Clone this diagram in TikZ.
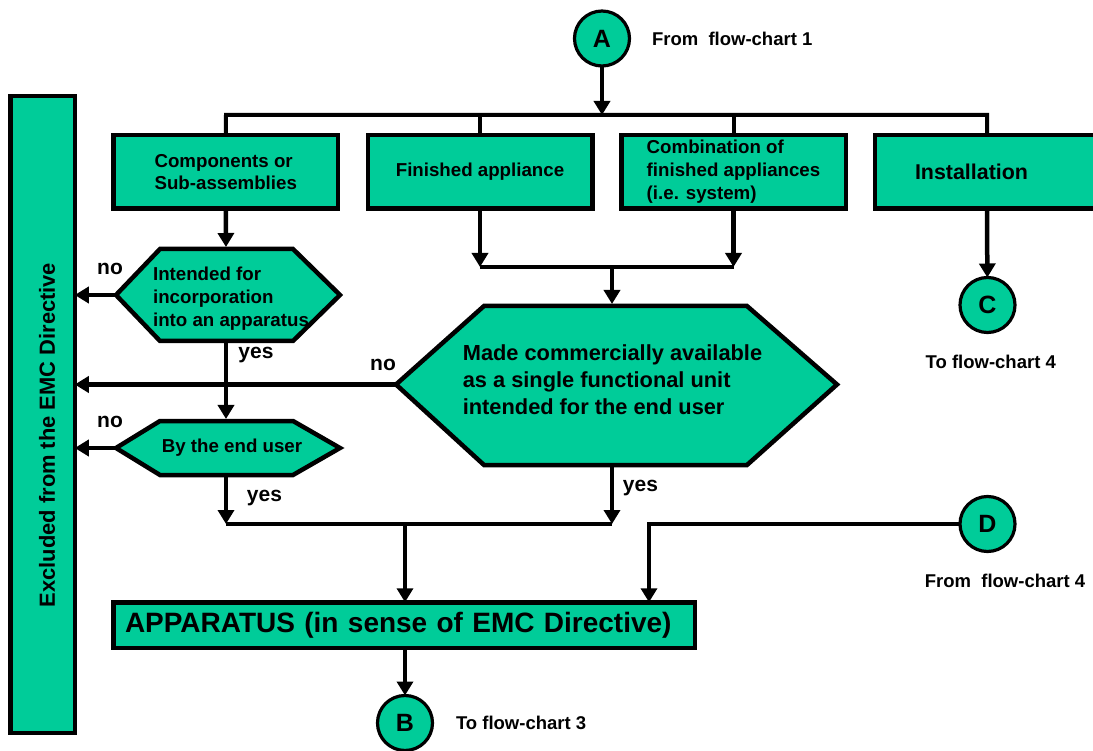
\documentclass[tikz,border=0pt]{standalone}
\usepackage{fontspec}
\setmainfont{Liberation Sans}
\usetikzlibrary{positioning,calc,arrows.meta}
\definecolor{emcgreen}{RGB}{0,204,153}

\begin{document}
\begin{tikzpicture}[x=1pt,y=-1pt,every node/.style={outer sep=0pt},
		box/.style={draw,line width=4.5pt,fill=emcgreen,inner sep=0pt,align=left,
		font=\fontsize{18.7}{22.5}\selectfont\bfseries},
		hexline/.style={draw,line width=4.5pt,fill=emcgreen,line join=miter},
		conn/.style={line width=4pt},
		arr/.style={line width=4.5pt,-{Triangle[length=14pt,width=16pt]}},
		joint/.style={circle,draw,line width=3.2pt,fill=emcgreen,minimum size=55pt,
		inner sep=0pt,font=\fontsize{25}{25}\selectfont\bfseries},
		note/.style={inner sep=0pt,font=\fontsize{18.5}{22}\selectfont\bfseries},
		yesno/.style={inner sep=0pt,font=\fontsize{21}{25}\selectfont\bfseries},
		]
		\useasboundingbox (0,0) rectangle (1093,751);
		\clip (0,0) rectangle (1093,751);

		% left bar
		\node[draw,line width=4.5pt,fill=emcgreen,minimum width=64.5pt,minimum height=636.5pt] (excl) at (42.5,414.5) {};
		\node[rotate=90,inner sep=0pt,font=\fontsize{21.9}{26}\selectfont\bfseries] (excltext) at (47,435) {Excluded from the EMC Directive};

		% top row
		\node[joint] (circA) at (602,38.5) {A};
		\node[note,anchor=west] (fromA) at (652,39) {From\ \ flow-chart 1};
		\node[box,minimum width=224.5pt,minimum height=73.5pt] (comp) at (225.75,172) {Components or\\Sub-assemblies};
		\node[box,minimum width=224.5pt,minimum height=73.5pt] (fin) at (480,172) {Finished appliance};
		\node[box,minimum width=224.5pt,minimum height=73.5pt,font=\fontsize{18.7}{23}\selectfont\bfseries] (comb) at (733.5,172) {Combination of\\finished appliances\\(i.e. system)};
		\node[box,anchor=west,minimum height=73.5pt,text width=240pt,inner xsep=40pt,
			font=\fontsize{21.4}{25}\selectfont\bfseries] (inst) at (875,172) {Installation};

		\coordinate (busW) at (226,115);
		\coordinate (busE) at (987,115);
		\draw[arr] (circA) -- (circA |- busW);
		\draw[conn] (comp.north) -- (busW) -- (busE) -- (busE |- inst.north);
		\draw[conn] (fin.north) -- (fin.north |- busW);
		\draw[conn] (comb.north) -- (comb.north |- busW);

		% decisions
		\coordinate (incW) at (116,295);
		\coordinate (incN) at (226,247);
		\coordinate (incS) at (226,341);
		\draw[hexline] (incW) -- (160,249) -- (293,249) -- (340,295) -- (293,341) -- (160,341) -- cycle;
		\node[inner sep=0pt,align=left,font=\fontsize{18.7}{23}\selectfont\bfseries] (incorp) at (231,299) {Intended for\\incorporation\\into an apparatus};

		\coordinate (userW) at (116,448);
		\coordinate (userN) at (226,419);
		\coordinate (userS) at (226,475);
		\draw[hexline] (userW) -- (160,421) -- (293,421) -- (340,448) -- (293,475) -- (160,475) -- cycle;
		\node[inner sep=0pt,font=\fontsize{18.7}{23}\selectfont\bfseries] (enduser) at (232,448) {By the end user};

		\coordinate (mktW) at (396,384.5);
		\coordinate (mktN) at (612,304);
		\coordinate (mktS) at (612,465);
		\draw[hexline] (mktW) -- (484,306) -- (747,306) -- (837,384.5) -- (747,465) -- (484,465) -- cycle;
		\node[inner sep=0pt,align=left,font=\fontsize{21.8}{27}\selectfont\bfseries] (market) at (612.5,380) {Made commercially available\\as a single functional unit\\intended for the end user};

		% connectors
		\coordinate (joinT) at (612,267);
		\coordinate (joinW) at (226,524);
		\coordinate (joinE) at (612,524);
		\coordinate (dturn) at (649,524);
		\draw[arr] (comp.south) -- (incN);
		\draw[arr] (fin.south) -- (fin.south |- joinT);
		\draw[arr] (comb.south) -- (comb.south |- joinT);
		\draw[conn] (fin.south |- joinT) -- (comb.south |- joinT);
		\draw[arr] (joinT) -- (mktN);
		\draw[arr] (incW) -- (incW -| excl.east);
		\draw[arr] (mktW) -- (mktW -| excl.east);
		\draw[arr] (userW) -- (userW -| excl.east);
		\draw[arr] (incS) -- (userN);
		\draw[arr] (userS) -- (joinW);
		\draw[arr] (mktS) -- (joinE);
		\draw[conn] (joinW) -- (joinE);

		\node[yesno] (no1) at (110,269) {no};
		\node[yesno] (yes1) at (256,355) {yes};
		\node[yesno] (no2) at (383,365) {no};
		\node[yesno] (no3) at (110,422) {no};
		\node[yesno] (yes2) at (264.5,498) {yes};
		\node[yesno] (yes3) at (640.5,488) {yes};

		% bottom
		\node[box,minimum height=45.5pt,text width=558.5pt,inner xsep=11.5pt,
			font=\fontsize{28}{32}\selectfont\bfseries] (app) at (404.25,625) {APPARATUS (in sense of EMC Directive)};
		\node[joint] (circB) at (405,723) {B};
		\node[note,anchor=west] (toB) at (456,723) {To flow-chart 3};
		\draw[arr] (circB |- joinW) -- (circB |- app.north);
		\draw[arr] (app.south -| circB) -- (circB);

		% right side
		\node[joint] (circC) at (987.5,305) {C};
		\node[note] (toC) at (990.75,362) {To flow-chart 4};
		\draw[arr] (inst.south -| busE) -- (circC);
		\node[joint] (circD) at (987.5,524) {D};
		\node[note] (fromD) at (1005,581) {From\ \ flow-chart 4};
		\draw[arr] (circD) -| (dturn |- app.north);

	\end{tikzpicture}
\end{document}
